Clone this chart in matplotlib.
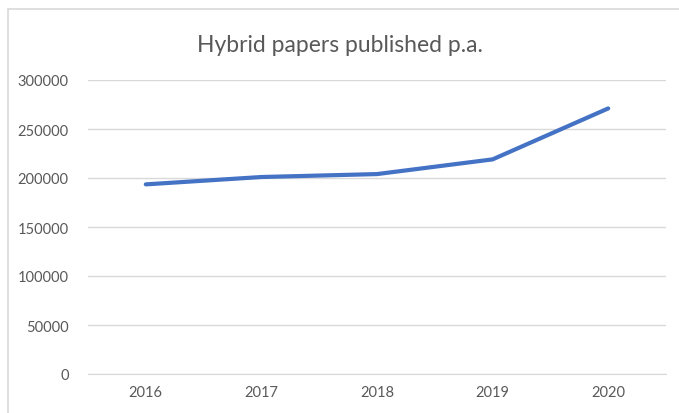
import matplotlib.pyplot as plt
from matplotlib.patches import Rectangle

# Data
years = ['2016', '2017', '2018', '2019', '2020']
papers = [193500, 201000, 204000, 219000, 271000]
y_ticks = [0, 50000, 100000, 150000, 200000, 250000, 300000]

plt.rcParams['font.family'] = ['Lato', 'DejaVu Sans']

fig = plt.figure(figsize=(6.79, 4.14), dpi=100)
ax = fig.add_axes([88 / 679, 1 - 375 / 414, (666 - 88) / 679, (375 - 81) / 414])

x = range(len(years))
ax.plot(x, papers, color='#4472C4', lw=3, solid_capstyle='round', solid_joinstyle='round')

ax.set_xlim(-0.5, len(years) - 0.5)
ax.set_ylim(0, 300000)
ax.set_yticks(y_ticks)
ax.set_yticklabels([str(v) for v in y_ticks])
ax.set_xticks(list(x))
ax.set_xticklabels(years)

ax.grid(axis='y', color='#D9D9D9', lw=1)
ax.set_axisbelow(True)
for s in ['top', 'right', 'left']:
    ax.spines[s].set_visible(False)
ax.spines['bottom'].set_color('#D9D9D9')
ax.tick_params(length=0, colors='#595959', labelsize=10.5)
ax.tick_params(axis='y', pad=14)
ax.tick_params(axis='x', pad=8)

fig.text(0.5, 1 - 45 / 414, 'Hybrid papers published p.a.', ha='center', va='center',
         fontsize=16.5, color='#595959')

# chart area border (runs off the right and bottom edges)
fig.patches.append(Rectangle((8 / 679, -0.1), 1.2, 1 - 10 / 414 + 0.1, transform=fig.transFigure,
                             fill=False, edgecolor='#D9D9D9', lw=1.2))

fig.savefig('out.png', dpi=100)
